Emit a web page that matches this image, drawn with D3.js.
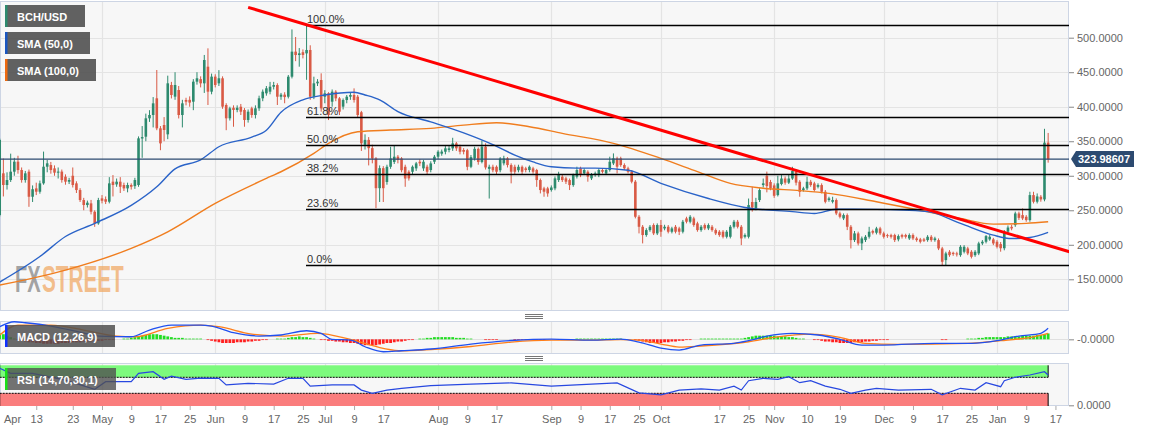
<!DOCTYPE html>
<html><head><meta charset="utf-8">
<script src="https://cdn.jsdelivr.net/npm/d3@7"></script>
<style>
body{margin:0;background:#fff;}
svg{display:block;font-family:"Liberation Sans",Arial,Helvetica,sans-serif;}
</style></head>
<body><svg id="chart" width="1153" height="432"></svg>
<script>
// ---------- DATA ----------
const firstDay = "2019-04-03";   // first daily candle, one candle per day
const openV = [243,303.5,286.6,293.8,305.9,320.4,308.3,293.8,305.9,269.6,281.7,276.9,289,313.1,315.5,310.7,304.5,306,298.6,291.4,300,289,279.3,264.8,257.6,260,247.9,231,267.2,266,262.4,291.4,287.5,291.4,286.6,281.7,286.6,285,286.6,354,356.6,383.2,388,412.2,368.7,373.5,360,431.5,414.6,424.2,388,409.8,410,407.3,436.3,440,433.9,458,421.8,443.6,433.9,441.2,402.5,383.2,398.5,395.3,400,395.3,380.8,397.7,388,397.7,412.2,419.4,421.8,429,431.4,414.5,417.5,414.5,443.5,479.8,474.9,479,477.3,482.2,414.5,433.9,438.7,414.5,419.4,407.3,421.8,412.1,400.1,409.7,414.5,417,414.5,392,345,352,340,325,282,311,291,313,320,327.6,325,313,305.8,305.8,310.7,320.3,310.7,313.1,308.3,320.3,327.6,332,334.8,337.3,339.7,346.9,342.1,337.3,337,313,325,339,320,342,310,313,313,308,318,325.2,315.5,313,308,313,310.7,308.3,310.7,308.3,293.8,281.7,281.7,279.3,281.7,293.8,298.6,296.2,293.8,286.5,298.6,310.7,303.4,305.8,296.2,301,301,308.3,303.4,308.3,317.9,325.2,325.2,315.5,310.7,305.8,291.4,240.6,226.1,214.1,221.3,228.6,216.5,228.6,223.7,226.1,218.9,226.1,223.7,218.9,238.2,233.4,238.2,231,221.3,228.6,223.7,226.1,221.3,218.9,218.9,211.6,211.6,226.1,233.4,226.1,211.6,211.6,262,253,264.8,286.5,300,291,286,272,288,296,290,296,306,291.3,279.3,281.7,291.3,288.9,284,286.5,276.8,264.8,262.3,264.8,245.4,238.2,243,226.1,206.8,216.5,202,206.8,211.6,219.9,217.5,223.7,216.5,214,214,214.1,207.8,214.1,214.1,209.2,214.1,209.2,207.8,207.8,206.8,211.6,206.8,206.8,194.7,177.8,189.9,188.4,187.5,185,189.9,194.7,189.9,185,187.5,202,204.4,207.8,207.8,204.4,201,195,219,226,228.5,245.4,243,240.6,235.8,272,262.4,269.6,265.7,348];
const highV = [354,325,305,332,326,329,312,307,309,286,290,293,335,323,320,315,312,309,302,297,312,292,282,268,264,265,250,268,272,270,298,301,296,298,290,290,289,297,357,372,390,395,414,453.2,372,385,445,436,450,430,410,413,415,440,450,444,475,484.6,448,447,453,444,405,400,402,402,404,398,396,400,402,416,425,430,436,436,434,420,421,446,512,501,485,483,517.4,489,443.5,440,448.4,424,421,425,424,414,412,417,420,426.6,417,394,360,356,345,327,315,314,316,342,344.5,330,327,316,308,315,320,324,323,316,321,330,337,338,343,344,355,349,345,340,339,330,342,341,351,347,316,316,315,327,329,327,318,316,316,315,313,315,313,310,296,284,284,286,299,305.8,301,298.6,296,303,313.1,313.1,310.7,308,304,306,310.7,311,311,327.6,332.4,327.6,327.6,318,313.1,308.3,293.8,243,228.6,224,228.6,231,231,236,229,228.6,226.1,228.6,226.1,236,240.6,243,240.6,233.4,228.6,231,231,228.6,223.7,221.3,221.3,221.3,228.6,236,236,228.6,216.5,267,284,268,282,296,306,294,289,300,301,299,301,313,309,293.7,284,298.6,294,291.3,289,289,279.3,269.6,269.6,267.2,248,245.4,245.4,228.6,220,219,212,214,226,222,226,226,219,216,216,216,215,216,216,216.5,216.5,211.6,210,210,214,214,211.6,209.2,197,190,192.3,190,189.9,199.5,199.5,197.1,192.3,192.3,204.4,206.8,214.1,214.1,210,206.8,204,221.3,228,229,248,248,252.7,243,276.8,276.8,274.4,272,368,362];
const lowV = [241,270,280,291,300,303,290,290,255,262,272,274,287,305,303,300,296,290,287,288,283,275,262,250,254,244,226,229,260,259,260,270,284,275,278,276,280,281,284,326,350,378,370,366,337,350,353,412,410,383,370,402,400,395,432,428,420,402.5,418,428,430,397,366,380,371,392,388,371,377,384,383,394,408,416,418,425,402.5,410,405,412,441,466,458,470,439,410,411,430,392.8,405,380.7,400,408,388,396,405,410,406,385,336,338,315,318,253,262,262,287,310,317,318,305,284,293,302,307,314,307,302,305,317,324,329,331,334,336,336,331,331,308,311,322,316,318,309,267,305,302,305,315,312,289,302,305,302,305,305,303,284,274.4,269.6,269.6,277,279,291,291,288,279.3,284,296,298,301,291.4,293.8,298.6,298,303.4,301,306,315.5,303.4,313,308.3,303.4,289,238.2,216.5,202,211.6,218.9,214.1,214.1,211.6,221,216.5,216.5,216.5,214.1,216.5,231,231,226.1,218.9,218.9,221.3,221.3,218.9,214.1,211.6,209.2,209.2,209.2,223.7,223.7,199.5,209.2,209.2,248,250,262,283,276,279,268,270,286,287,288,294,286,269.6,277,279.3,284,277,281.7,274.4,260,262.3,260,243,238.2,235.8,221.3,194.7,204,199,192.3,204,209,215,215,214,209,210,209,204,205,209,209,207,206.8,204.4,202,204,204.4,204.4,204.4,192.3,170.6,170.6,182.6,184,183,182.6,187.5,185,180.2,182.6,185,199.5,202,205.8,199.5,194.7,190,192,217,221,226,236,235.8,233.4,233.4,259.9,259.9,262.4,263,319];
const closeV = [352,286.6,293.8,305.9,320.4,308.3,293.8,303.5,269.6,280.5,276.9,289,313.1,318,308.3,304.5,306,293.8,291.4,293.8,286.6,279.3,264.8,257.6,261,247.9,231,264.8,263.8,262.4,289,286.6,291.4,284.1,281.7,286.6,284.1,293.8,354.2,356,383.2,388,404.9,368.7,346.9,366.3,433.9,417,431.5,388,404.9,407.3,406,436.3,441.2,433.9,467.7,421.8,443.6,431.5,441.2,400.1,383.2,397.7,395.3,398.5,392.8,380.8,392.8,388,397.7,412.2,421.8,426.7,429,431.4,414.5,417.5,414,443.5,479.8,474.9,477.3,475,482.2,414.5,433.9,436.3,397.6,419.4,388,421.8,412.1,392.8,409.7,414.5,417,409.7,388,347,352,340,325,282,311,282,313,325,327.6,322.8,308,296,296.2,313.1,317.9,318,320.3,305.8,317.9,327.6,334.8,335,339.7,339.7,346.9,339.7,334.8,334.8,313,327,339,320,342,312,313,308,305.8,325,325.2,315.5,305.8,305.8,313,305.8,308.3,313.1,305.8,293.8,279.3,276.9,274.4,283,296.2,301,293.8,291.4,286.5,301,308.3,301,308.3,298.6,301,303.4,308.3,305.8,308.3,320.3,325.2,313.1,315.5,310.7,305.8,291.4,240.6,226.1,214.1,221.3,226.1,216.5,228.6,218.9,226.1,218.9,223.7,218.9,218.9,233.4,233.4,240.6,228.6,221.3,226.1,223.7,228.6,221.3,216.5,214.1,211.6,218.9,226.1,233.4,226.1,209.2,214.1,257.5,254,262,279.3,289,285,282,271,289,296,290,296,307,290,276.8,281.7,291.3,286.5,279.3,286.5,276.8,262.3,267.2,264.8,245.4,240.6,243,226.1,206.8,216.5,202,209.2,211.6,218.9,217.5,223.7,216.5,211.6,213,211.6,206.8,212.6,211.6,211.6,214.1,209.2,206.8,204.4,205.8,211.6,206.8,209.2,194.7,175.4,187.5,185,186.5,186,197.1,197.1,187.5,182.6,189.9,202,204.4,212.6,211.6,202,197.1,195,218.9,225,223.7,245.4,239,238.2,235.8,272,262.3,270,265.7,348,323.99];

// SMA samples: candle index -> value
const sma50At  = [0,11,18,26,36,43,48,55,60,69,73,77,83,89,97,100,104,109,118,127,135,141,146,151,158,163,172,181,194,204,217,223,229,240,254,263,272,277,282,287];
const sma50Val = [146,183,212,231,257,284,310,323,342,356,366,392,410,417,421,417,410,393,378,362,345,330,320,313,311,311,308,289,267,254,248,245.4,251.5,251.3,248,231,214,209,210.6,218];
const sma100At  = [0,18,36,46,59,74,77,86,90,98,107,118,127,136,145,154,168,181,191,200,209,219,227,240,254,263,272,281,287];
const sma100Val = [141.6,163.3,194.8,218.8,260,298.6,305.8,332.4,346.9,363.8,366.2,368.6,373.4,376.8,371,361.4,347,325.2,306,289,282,278.5,274.5,262.4,247.8,238.2,230,231,233.3];

// Fibonacci retracement
const fibHigh = 518, fibLow = 170;
const fibLevels = [1, 0.618, 0.5, 0.382, 0.236, 0];
const fibLabels = ["100.0%","61.8%","50.0%","38.2%","23.6%","0.0%"];
// trend line end points (date, price)
const trendDates = ["2019-06-10","2020-01-21"];
const trendVals  = [544, 189.6];
const lastPrice = 323.98607;

// MACD (12,26,9)
const macdAt  = [0,4,7,14,23,27,36,41,47,55,58,64,71,77,84,88,91,96,100,105,110,118,129,140,151,162,170,175,181,186,192,201,205,210,217,224,230,236,242,256,266,273,279,285,287];
const macdVal = [17.2,24,22.6,18.1,8.6,4.5,3.5,12.7,19.5,19.5,18.1,9,4.5,5.9,11.7,8.2,0,-1,-10.1,-16.9,-15.6,-13.2,-6.4,-1.6,0.4,-1,0.4,-3.7,-11.9,-14.6,-7.8,-5.5,-1.9,4.5,8.2,5.9,0,-7.8,-7.8,-5.5,-5.5,-1.9,4.5,8.2,15];
const signalAt  = [0,5,14,23,32,37,46,55,60,69,78,87,96,105,110,118,129,140,151,162,170,175,181,186,192,205,212,222,230,237,246,265,274,283,287];
const signalVal = [5.9,19.5,19.5,12.7,4.5,3.5,15,19.5,17.2,7.2,4.5,8.2,0,-12.3,-15.6,-13.9,-9.8,-3.7,-1,-1,-0.3,-1,-6.4,-10.5,-9.1,-3.3,2.7,7.2,2.7,-5.5,-6.8,-5.5,-1.9,3.5,8.2];
const histVal = [8,7,5,3,1,
 -1,-2,-3,-4,-4,-5,-5,-6,
 -6,-6,-6,-6,-5,-5,-5,-4,-4,-4,-3,-3,-3,-2,-2,-2,-1,-1,-1,
 0,0,1,1,2,3,
 4,5,6,7,7,7,6,5,4,3,
 2,2,2,1,1,1,1,1,0,
 -1,-2,-3,-4,-5,-5,-5,-5,-4,-4,-4,-3,-3,-2,-2,-1,-1,
 0,0,1,1,1,
 2,3,3,4,3,3,2,1,
 0,-1,-1,-2,
 -2,-3,-3,-4,-4,-5,-5,-6,-7,-8,-8,-8,-8,-7,-6,-5,-5,-4,-3,-3,
 -2,-1,-1,0,1,1,2,2,3,3,3,3,3,3,2,2,2,1,1,0,
 0,0,-1,-1,-1,-1,0,0,0,0,-1,-1,-1,-1,-1,-1,-1,-1,-1,0,
 0,0,0,0,0,0,0,1,1,1,1,1,1,1,1,1,1,1,1,1,0,0,0,
 -1,-2,-3,-4,-5,-5,-5,-5,-4,-4,-3,-3,-2,-2,-1,-1,0,
 0,1,1,1,1,1,1,1,1,1,1,1,1,2,3,
 4,5,5,5,5,5,5,4,4,4,3,3,2,
 1,1,0,0,-1,
 -1,-2,-3,-3,-4,-4,-5,-5,-5,-5,-4,-4,-4,-3,-3,-2,-2,-1,
 -1,-1,0,0,0,0,0,0,0,0,0,0,0,0,0,0,-1,-1,0,0,0,0,0,1,
 1,1,2,2,3,3,3,3,3,3,4,4,4,4,5,5,5,5,6,6,7,8];

// RSI (14)
const rsiAt  = [0,3,9,18,26,29,36,38,42,45,47,51,55,60,62,68,75,79,83,85,91,97,99,102,106,110,118,129,140,151,162,169,175,181,186,192,197,201,203,205,209,213,216,219,222,226,230,233,237,240,246,255,258,263,267,270,274,275,278,282,286,287];
const rsiVal = [92.5,80,80,63,40,59,59,80,84,65,73,65,68,67.5,51,55,53,67.5,67.5,48,51,51,38,30,38,42.5,49,53,56,48,53,56,31,26,38,41,38,48,38,61.5,67.5,65,71.5,56.5,61.5,48,40,30,38,42.5,38,40,26,42.5,38,56.5,46.5,61.5,70,75.8,84,75.8];

const monthNames = ["Jan","Feb","Mar","Apr","May","Jun","Jul","Aug","Sep","Oct","Nov","Dec"];
const tickDates = ["2019-04-01","2019-04-13","2019-04-23","2019-05-01","2019-05-09","2019-05-17","2019-05-25","2019-06-01","2019-06-09","2019-06-17","2019-06-25","2019-07-01","2019-07-09","2019-07-17","2019-08-01","2019-08-09","2019-08-17","2019-09-01","2019-09-09","2019-09-17","2019-09-25","2019-10-01","2019-10-17","2019-10-25","2019-11-01","2019-11-10","2019-11-19","2019-12-01","2019-12-09","2019-12-17","2019-12-25","2020-01-01","2020-01-09","2020-01-17"];
const priceTicks = [150,200,250,300,350,400,450,500];

// ---------- LAYOUT ----------
const svg = d3.select("#chart");
const P = {l:0, r:1069};
const main = {t:1, b:311};
const mac = {t:321, b:354};
const rsiP = {t:363, b:406};

const parse = d3.timeParse("%Y-%m-%d");
const d0 = parse(firstDay);
const dates = openV.map((_, i) => d3.timeDay.offset(d0, i));
const candles = dates.map((d, i) => ({d, o:openV[i], h:highV[i], l:lowV[i], c:closeV[i]}));

const x = d3.scaleTime().domain([parse("2019-05-01"), parse("2020-01-01")]).range([102, 997]);
const y = d3.scaleLinear().domain([150, 500]).range([279.3, 37.7]);
const yM = d3.scaleLinear().domain([-20, 25]).range([354, 321]);
const yR = d3.scaleLinear().domain([0, 100]).range([405.3, 365.3]);

const defs = svg.append("defs");
[["cMain",main],["cMac",mac],["cRsi",rsiP]].forEach(([id,p])=>{
  defs.append("clipPath").attr("id",id).append("rect")
    .attr("x",P.l).attr("y",p.t).attr("width",P.r-P.l).attr("height",p.b-p.t);
});

function panelBg(p){
  svg.append("rect").attr("x",P.l+0.5).attr("y",p.t+0.5).attr("width",P.r-P.l-1).attr("height",p.b-p.t-1)
    .attr("fill","#f7f7f7").attr("stroke","#cdd5e4").attr("stroke-width",1);
}
panelBg(main); panelBg(mac); panelBg(rsiP);

const monthStarts = d3.timeMonth.range(parse("2019-05-01"), parse("2020-01-02"));
function vgrid(p){
  svg.append("g").selectAll("line").data(monthStarts).join("line")
    .attr("x1",d=>Math.round(x(d))+0.5).attr("x2",d=>Math.round(x(d))+0.5)
    .attr("y1",p.t+1).attr("y2",p.b-1).attr("stroke","#e4e4e4").attr("stroke-width",1.2);
}
vgrid(main); vgrid(mac); vgrid(rsiP);

// horizontal grid in main
svg.append("g").selectAll("line").data(priceTicks).join("line")
  .attr("x1",P.l+1).attr("x2",P.r-1).attr("y1",d=>Math.round(y(d))+0.5).attr("y2",d=>Math.round(y(d))+0.5)
  .attr("stroke","#e4e4e4").attr("stroke-width",1.2);

// watermark (condensed by horizontal scaling)
svg.append("text").attr("transform","translate(15,292) scale(0.54,1)").attr("font-size",37).attr("font-weight","bold")
  .attr("fill","#8c8c8c").attr("fill-opacity",0.8).text("FX");
svg.append("text").attr("transform","translate(42,292) scale(0.56,1)").attr("font-size",37).attr("font-weight","bold")
  .attr("fill","#f0a45a").attr("fill-opacity",0.7).text("STREET");

// ---------- MAIN PANEL ----------
const gMain = svg.append("g").attr("clip-path","url(#cMain)");
const up = "#2d8a6e", dn = "#d95a45";
const cg = gMain.append("g");
cg.selectAll("line").data(candles).join("line")
  .attr("x1",d=>x(d.d)).attr("x2",d=>x(d.d)).attr("y1",d=>y(d.h)).attr("y2",d=>y(d.l))
  .attr("stroke",d=>d.c>=d.o?up:dn).attr("stroke-width",1);
cg.selectAll("rect").data(candles).join("rect")
  .attr("x",d=>x(d.d)-1.3).attr("width",2.6)
  .attr("y",d=>y(Math.max(d.o,d.c))).attr("height",d=>Math.max(1,Math.abs(y(d.o)-y(d.c))))
  .attr("fill",d=>d.c>=d.o?up:dn);

const smaLine = d3.line().x(d=>x(dates[d[0]])).y(d=>y(d[1])).curve(d3.curveMonotoneX);
gMain.append("path").attr("d",smaLine(d3.zip(sma100At,sma100Val))).attr("fill","none").attr("stroke","#f07d1e").attr("stroke-width",1.4);
gMain.append("path").attr("d",smaLine(d3.zip(sma50At,sma50Val))).attr("fill","none").attr("stroke","#2a63c8").attr("stroke-width",1.4);

// current price line
gMain.append("line").attr("x1",P.l).attr("x2",P.r).attr("y1",y(lastPrice)).attr("y2",y(lastPrice))
  .attr("stroke","#2c4a70").attr("stroke-width",1.2);

// fib lines
const fibX0 = 306;
fibLevels.forEach((lv,i)=>{
  const v = fibLow + lv*(fibHigh-fibLow);
  const yy = Math.round(y(v))+0.5;
  gMain.append("line").attr("x1",fibX0).attr("x2",P.r).attr("y1",yy).attr("y2",yy).attr("stroke","#000").attr("stroke-width",1.3);
  gMain.append("text").attr("x",fibX0+1).attr("y",yy-3).attr("font-size",11).attr("fill","#333").text(fibLabels[i]);
});

// trend line
gMain.append("line")
  .attr("x1",x(parse(trendDates[0]))).attr("y1",y(trendVals[0]))
  .attr("x2",x(parse(trendDates[1]))).attr("y2",y(trendVals[1]))
  .attr("stroke","#ff0000").attr("stroke-width",3);

// main y axis
const yAx = svg.append("g").attr("transform",`translate(${P.r},0)`)
  .call(d3.axisRight(y).tickValues(priceTicks).tickSize(5).tickPadding(3).tickFormat(d3.format(".4f")));
yAx.select(".domain").remove();
yAx.selectAll("line").attr("stroke","#888");
yAx.selectAll("text").attr("font-size",11).attr("fill","#666").attr("font-family","Liberation Sans, Arial, sans-serif");

// price label
const py = Math.round(y(lastPrice));
svg.append("path").attr("d",`M${P.r+2},${py} L${P.r+7},${py-8} L${P.r+65},${py-8} L${P.r+65},${py+8} L${P.r+7},${py+8} Z`)
  .attr("fill","#2c4a70");
svg.append("text").attr("x",P.r+9).attr("y",py+4).attr("font-size",11).attr("font-weight","bold").attr("fill","#fff").text(lastPrice.toFixed(5));

// legends
function legend(xx,yy,w,label,col,op){
  svg.append("rect").attr("x",xx).attr("y",yy).attr("width",w).attr("height",22).attr("fill","#505050").attr("fill-opacity",op);
  svg.append("rect").attr("x",xx).attr("y",yy).attr("width",2.5).attr("height",22).attr("fill",col);
  svg.append("text").attr("x",xx+12).attr("y",yy+15.5).attr("font-size",11).attr("font-weight","bold").attr("fill","#fff").text(label);
}
legend(5,5,80,"BCH/USD","#2d8a6e",0.9);
legend(5,32,85,"SMA (50,0)","#1a56c0",0.9);
legend(5,59,91,"SMA (100,0)","#ee6a10",0.9);

// ---------- MACD PANEL ----------
const gM = svg.append("g").attr("clip-path","url(#cMac)");
gM.append("line").attr("x1",P.l).attr("x2",P.r).attr("y1",Math.round(yM(0))+0.5).attr("y2",Math.round(yM(0))+0.5).attr("stroke","#e0e0e0");
gM.selectAll("rect").data(histVal.map((v,i)=>({v,d:dates[i]}))).join("rect")
  .attr("x",d=>x(d.d)-1.4).attr("width",2.8)
  .attr("y",d=>Math.min(yM(0),yM(d.v))).attr("height",d=>Math.abs(yM(d.v)-yM(0)))
  .attr("fill",d=>d.v>0?"#22dd22":"#ff1e1e");
const mLine = d3.line().x(d=>x(dates[d[0]])).y(d=>yM(d[1])).curve(d3.curveMonotoneX);
gM.append("path").attr("d",mLine(d3.zip(signalAt,signalVal))).attr("fill","none").attr("stroke","#ff7f1a").attr("stroke-width",1.3);
gM.append("path").attr("d",mLine(d3.zip(macdAt,macdVal))).attr("fill","none").attr("stroke","#2050f0").attr("stroke-width",1.3);
legend(5,325,110,"MACD (12,26,9)","#1030ff",0.85);
const mAx = svg.append("g").attr("transform",`translate(${P.r},0)`)
  .call(d3.axisRight(yM).tickValues([0]).tickSize(5).tickPadding(3).tickFormat(()=>"-0.0000"));
mAx.select(".domain").remove();
mAx.selectAll("line").attr("stroke","#888");
mAx.selectAll("text").attr("font-size",11).attr("fill","#666").attr("font-family","Liberation Sans, Arial, sans-serif");

// ---------- RSI PANEL ----------
const gR = svg.append("g").attr("clip-path","url(#cRsi)");
const bx0 = x(dates[0]), bx1 = x(dates[dates.length-1]);
gR.append("rect").attr("x",bx0).attr("width",bx1-bx0).attr("y",yR(100)).attr("height",yR(70)-yR(100)).attr("fill","#7dfa7d");
gR.append("rect").attr("x",bx0).attr("width",bx1-bx0).attr("y",yR(30)).attr("height",yR(0)-yR(30)+1).attr("fill","#fa7d7d");
[70,30].forEach(v=>gR.append("line").attr("x1",bx0).attr("x2",bx1).attr("y1",yR(v)).attr("y2",yR(v))
  .attr("stroke","#000").attr("stroke-width",1).attr("stroke-dasharray","2,1"));
[[100,70],[30,0]].forEach(([a,b])=>{
  [bx0,bx1].forEach(xx=>gR.append("line").attr("x1",xx).attr("x2",xx).attr("y1",yR(a)).attr("y2",yR(b)+(b===0?1:0)).attr("stroke","#000").attr("stroke-width",1));
});
const rLine = d3.line().x(d=>x(dates[d[0]])).y(d=>yR(d[1]));
gR.append("path").attr("d",rLine(d3.zip(rsiAt,rsiVal))).attr("fill","none").attr("stroke","#2848e0").attr("stroke-width",1.2);
legend(5,368,111,"RSI (14,70,30,1)","#18e018",0.8);
const rAx = svg.append("g").attr("transform",`translate(${P.r},0)`)
  .call(d3.axisRight(yR).tickValues([0]).tickSize(5).tickPadding(3).tickFormat(()=>"0.0000"));
rAx.select(".domain").remove();
rAx.selectAll("line").attr("stroke","#888");
rAx.selectAll("text").attr("font-size",11).attr("fill","#666").attr("font-family","Liberation Sans, Arial, sans-serif");

// ---------- X AXIS ----------
const tDates = tickDates.map(parse);
const xAx = svg.append("g").attr("transform",`translate(0,${rsiP.b})`)
  .call(d3.axisBottom(x).tickValues(tDates).tickSize(4).tickPadding(5)
    .tickFormat(d=>d.getDate()===1?monthNames[d.getMonth()]:String(d.getDate())));
xAx.select(".domain").remove();
xAx.selectAll("line").attr("stroke","#aaa");
xAx.selectAll("text").attr("font-size",11).attr("fill","#666").attr("font-family","Liberation Sans, Arial, sans-serif")
  .attr("dx",function(d){const px=x(d); return px<12? (12-px)+"px":"0";});

// drag handles
[316,358].forEach(yy=>{
  [-2,0,2].forEach(o=>svg.append("line").attr("x1",525).attr("x2",543).attr("y1",yy+o+0.5).attr("y2",yy+o+0.5).attr("stroke","#777").attr("stroke-width",1));
});
</script></body></html>
